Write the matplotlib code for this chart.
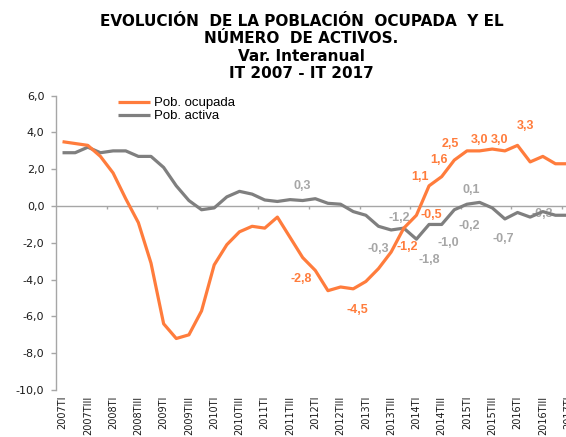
import numpy as np
import matplotlib
matplotlib.use("Agg")
import matplotlib.pyplot as plt

# quarterly series, 2007TI .. 2017TI
quarters = [f"{y}T{q}" for y in range(2007, 2018) for q in ("I", "II", "III", "IV")][:41]

ocupada = [3.5, 3.4, 3.3, 2.7, 1.8, 0.4, -0.9, -3.1, -6.4, -7.2,
           -7.0, -5.7, -3.2, -2.1, -1.4, -1.1, -1.2, -0.6, -1.7, -2.8,
           -3.5, -4.6, -4.4, -4.5, -4.1, -3.4, -2.5, -1.2, -0.5, 1.1,
           1.6, 2.5, 3.0, 3.0, 3.1, 3.0, 3.3, 2.4, 2.7, 2.3,
           2.3]
activa = [2.9, 2.9, 3.2, 2.9, 3.0, 3.0, 2.7, 2.7, 2.1, 1.1,
          0.3, -0.2, -0.1, 0.5, 0.8, 0.65, 0.33, 0.25, 0.35, 0.3,
          0.4, 0.15, 0.1, -0.3, -0.5, -1.1, -1.3, -1.2, -1.8, -1.0,
          -1.0, -0.2, 0.1, 0.2, -0.1, -0.7, -0.35, -0.6, -0.3, -0.5,
          -0.5]

# labelled points: index -> label offset in pixels (dx right, dy down)
lab_ocupada = {19: (-1, 21), 23: (4, 21), 27: (3, 19), 28: (15, 0), 29: (-9, -9),
               30: (-3, -17), 31: (-4, -16), 32: (13, -11), 33: (20, -11), 36: (8, -19)}
lab_activa = {19: (0, -15), 23: (25, 37), 27: (-5, -10), 28: (13, 21), 29: (19, 19),
              31: (15, 16), 32: (4, -14), 35: (-2, 20), 38: (0, 2)}

ORANGE = "#FF7C3C"
GREY = "#7F7F7F"
LGREY = "#A6A6A6"
AXC = "#A6A6A6"

def fmt(v):
    return f"{v:.1f}".replace(".", ",")

W, H = 566, 437
fig = plt.figure(figsize=(W / 100, H / 100), dpi=100)
ax = fig.add_axes([56.2 / W, 1 - 390 / H, (574.4 - 56.2) / W, (390 - 95.7) / H])

x = np.arange(len(quarters))
ax.plot(x, activa, color=GREY, lw=2.3, label="Pob. activa", zorder=3, solid_capstyle="butt")
ax.plot(x, ocupada, color=ORANGE, lw=2.3, label="Pob. ocupada", zorder=4, solid_capstyle="butt")

px = 0.72  # pixels -> points at 100 dpi
for i, (dx, dy) in lab_ocupada.items():
    ax.annotate(fmt(ocupada[i]), (x[i], ocupada[i]), xytext=(dx * px, -dy * px),
                textcoords="offset points", ha="center", va="center",
                fontsize=9, fontweight="bold", color=ORANGE,
                family="Liberation Sans", zorder=5)
for i, (dx, dy) in lab_activa.items():
    ax.annotate(fmt(activa[i]), (x[i], activa[i]), xytext=(dx * px, -dy * px),
                textcoords="offset points", ha="center", va="center",
                fontsize=9, fontweight="bold", color=LGREY,
                family="Liberation Sans", zorder=2)

# category axis drawn at zero with marks every four quarters
ax.axhline(0, color=AXC, lw=1, zorder=1)
ax.vlines(np.arange(3.5, len(x), 4), -0.17, 0, color=AXC, lw=1, zorder=1)

ax.set_xlim(-0.5, len(x) - 0.5)
ax.set_ylim(-10, 6)
ax.set_yticks(np.arange(-10, 7, 2))
ax.set_yticklabels([fmt(v) for v in np.arange(-10, 7, 2)], fontsize=8,
                   family="DejaVu Sans", color="#1a1a1a")
ax.set_xticks(x[::2])
ax.set_xticklabels(quarters[::2], rotation=90, fontsize=7, va="top",
                   family="DejaVu Sans", color="#1a1a1a")
ax.tick_params(axis="x", length=0, pad=4)
ax.tick_params(axis="y", length=3.5, width=1, color=AXC, pad=5)

for s in ("top", "right", "bottom"):
    ax.spines[s].set_visible(False)
ax.spines["left"].set_color(AXC)
ax.spines["left"].set_linewidth(1)
ax.patch.set_alpha(0)

h, l = ax.get_legend_handles_labels()
ax.legend(h[::-1], l[::-1], loc="upper left", bbox_to_anchor=(118 / W, 1 - 97 / H),
          bbox_transform=fig.transFigure, frameon=False,
          prop={"family": "Liberation Sans", "size": 9.5},
          handlelength=2.4, handletextpad=0.3, labelspacing=0.05,
          borderpad=0, borderaxespad=0)

fig.text(301.5 / W, 1 - 47.5 / H,
         "EVOLUCIÓN  DE LA POBLACIÓN  OCUPADA  Y EL\nNÚMERO  DE ACTIVOS.\nVar. Interanual\nIT 2007 - IT 2017",
         ha="center", va="center", fontsize=11, fontweight="bold",
         family="DejaVu Sans", linespacing=1.22)

fig.savefig("out.png", dpi=100)
